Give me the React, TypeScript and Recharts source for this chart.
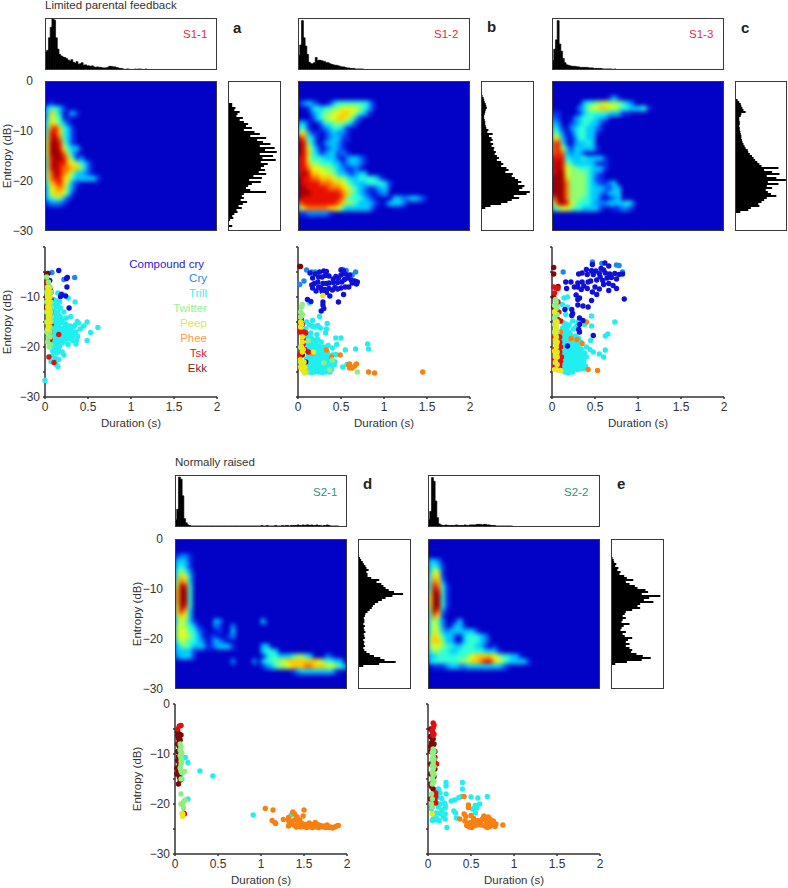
import { Bar, BarChart, Scatter, ScatterChart, XAxis, YAxis } from "recharts";

type Pt = [number, number];

const FONT = "'Liberation Sans', Arial, sans-serif";
const INK = "#333";
const PLOT_W = 172;
const PLOT_H = 150;
const HIST_H = 52;
const SIDE_W = 53;

const DURATION_TICKS = [0, 0.5, 1, 1.5, 2];
const ENTROPY_TICKS = [0, -5, -10, -15, -20, -25, -30];
const HEAT_TICKS = [0, -10, -20, -30];

const CALL_NAMES = ["Compound cry", "Cry", "Trill", "Twitter", "Peep", "Phee", "Tsk", "Ekk"];
const CALL_COLORS = ["#1010d8", "#1e88f0", "#22eef0", "#90ee80", "#e8e81a", "#f88010", "#e01010", "#7d0a0a"];
const LEGEND_COLORS = ["#2a20d0", "#2a86e8", "#48ecec", "#98f098", "#e4e450", "#f8a050", "#e02030", "#8b1a20"];
const LEGEND_Y = [265, 279, 294, 309, 324, 339, 354, 369];

// heat levels 0-9 then a
const JET = ["#0202c6", "#0a30ee", "#0088ff", "#00ccff", "#30ffd8", "#90ff70", "#e0ff20", "#ffcc00", "#ff7000", "#e81000", "#a00000"];

// duration histograms, 0.02 s bins, % of box height
const TOP_A = [35, 38, 62, 82, 98, 96, 62, 40, 30, 27, 25, 24, 22, 19, 17, 20, 15, 13, 16, 11, 12, 14, 9, 10, 8, 8, 7, 8, 6, 5, 6, 5, 5, 4, 4, 4, 5, 7, 7, 6, 6, 5, 4, 3, 3, 2, 1, 2, 2, 1, 1, 1, 2, 1, 2, 2, 1, 1, 2, 1, 1];
const TOP_B = [28, 48, 95, 62, 46, 30, 15, 12, 12, 14, 24, 18, 19, 18, 17, 16, 14, 14, 12, 11, 10, 9, 9, 8, 7, 6, 6, 5, 4, 4, 3, 3, 3, 2, 2, 2, 2, 2, 1, 1, 1, 1, 1, 1, 1, 1, 1, 1, 1, 1, 1, 1, 1, 1, 1, 1, 1, 1, 1, 1, 1, 1, 1, 1, 1, 1, 1, 1, 1, 1, 1, 1, 1, 1];
const TOP_C = [18, 40, 58, 95, 50, 36, 22, 14, 10, 9, 8, 7, 7, 7, 6, 6, 5, 5, 5, 5, 5, 4, 4, 4, 3, 3, 3, 3, 3, 2, 2, 2, 2, 2, 2, 1, 2, 1, 1, 1, 1, 1, 1, 1, 1, 1, 1, 1, 1, 1, 1, 1, 1, 1, 1, 1, 1, 1];
const TOP_D = [14, 34, 96, 92, 60, 16, 8, 4, 3, 2, 2, 2, 2, 2, 2, 2, 2, 2, 2, 2, 2, 2, 2, 2, 2, 2, 2, 2, 2, 2, 2, 2, 2, 2, 2, 2, 2, 2, 2, 2, 2, 2, 2, 2, 2, 2, 2, 2, 2, 2, 3, 2, 2, 3, 2, 2, 2, 2, 3, 2, 2, 2, 3, 2, 3, 3, 2, 3, 3, 3, 3, 4, 3, 3, 4, 3, 4, 4, 3, 4, 3, 3, 4, 3, 3, 2, 3, 3, 4, 3, 2, 2, 2, 2, 2];
const TOP_E = [14, 30, 95, 88, 50, 18, 6, 4, 3, 3, 4, 3, 3, 3, 3, 3, 4, 3, 3, 3, 3, 4, 3, 3, 4, 4, 4, 4, 5, 5, 5, 4, 5, 5, 4, 4, 3, 3, 3, 2, 2, 2, 2, 2, 2, 2, 2, 2, 2, 1, 1, 1];

// entropy histograms, 0.4 dB bins from 0 dB down, % of box width
const SIDE_A = [0, 0, 0, 0, 0, 0, 0, 0, 0, 0, 0, 8, 8, 14, 12, 22, 18, 16, 28, 22, 30, 38, 34, 45, 30, 50, 60, 42, 72, 55, 66, 80, 60, 88, 70, 92, 60, 85, 65, 90, 62, 75, 68, 62, 70, 58, 72, 48, 64, 40, 62, 45, 38, 34, 42, 72, 30, 26, 30, 24, 36, 28, 20, 26, 16, 18, 12, 8, 10, 4, 0, 2, 8];
const SIDE_B = [0, 0, 0, 0, 0, 0, 2, 3, 5, 6, 7, 9, 10, 11, 9, 8, 7, 6, 6, 7, 8, 8, 9, 10, 14, 12, 22, 15, 20, 22, 18, 23, 20, 25, 24, 28, 26, 30, 34, 30, 38, 42, 38, 48, 52, 46, 60, 58, 64, 70, 76, 70, 82, 78, 72, 92, 86, 62, 72, 58, 50, 38, 18, 8];
const SIDE_C = [0, 0, 0, 0, 0, 0, 0, 0, 0, 5, 8, 11, 12, 14, 16, 20, 12, 11, 8, 8, 9, 9, 8, 9, 9, 10, 11, 12, 12, 13, 14, 16, 18, 20, 24, 25, 28, 32, 35, 38, 42, 46, 50, 82, 55, 70, 84, 60, 78, 96, 62, 82, 60, 70, 58, 62, 68, 78, 60, 55, 50, 44, 46, 30, 25, 10];
const SIDE_D = [0, 0, 0, 0, 0, 0, 0, 0, 2, 4, 6, 9, 11, 14, 16, 20, 16, 18, 18, 25, 40, 35, 44, 48, 52, 58, 68, 85, 65, 52, 45, 38, 32, 28, 26, 22, 18, 14, 13, 11, 12, 12, 10, 13, 11, 12, 14, 11, 12, 13, 10, 12, 11, 13, 10, 12, 16, 22, 30, 42, 50, 71, 40, 10];
const SIDE_E = [0, 0, 0, 0, 0, 0, 0, 0, 0, 3, 5, 6, 10, 8, 14, 12, 18, 16, 25, 30, 42, 28, 35, 45, 50, 65, 70, 58, 93, 72, 62, 80, 55, 50, 55, 40, 28, 26, 22, 28, 22, 20, 35, 24, 20, 18, 28, 22, 26, 40, 32, 28, 35, 28, 35, 40, 38, 48, 60, 75, 58, 30, 8];

// density, one string per dB from 0 down, one char per 0.05 s
const HEAT_A = ["", "", "", "", "01", "34431", "37530131", "365401", "476431", "4897431", "5997431", "59a8431", "6aa9531", "6aa96433", "6aaa8531", "59aa97412", "59a99765431", "59a98877531", "58a98753321", "5899764333331", "47897521", "3678742", "3677641", "345531", "12221"];
const HEAT_B = ["", "", "", "", "123210013444444431", "001343445566665431", "000234556677654310", "00013456677653100", "33100244555431", "4410012344310", "6731101232210", "9843001233110", "a953102332100", "a96420123210", "a97431233121", "9964443331023321", "9975544433123321", "99866655432112", "9a97766553321233", "a99887776554334444310", "a999988877654333444431", "aa999998887654321123300", "aaa99999998754321012200", "a99999999985444321000033223321", "8999999998755433321013332", "5788888776433333310", "11222221"];
const HEAT_C = ["", "", "", "00000000000001310", "0000000344556555432", "00000023566776654433341", "1100001344444333110", "2100023444332", "3200123443310", "4310234433210", "54201344331", "6731024433", "8941023343", "89631333331", "8983233100", "99943334333310", "9a95433333101", "9a96554443331", "9aa6555543210", "aaa7555543110", "aaa8555543211230", "aaa8555543332133", "aaa8555543321333", "8aa8555443310123", "69a9654443222333343", "4566544333310011221"];
const HEAT_D = ["", "", "", "1221", "3331", "3431", "4542", "4763", "5873", "6a94", "7aa4", "7aa4", "7aa4", "6a94", "6973", "5763", "465310000320000000003", "565431000210020", "56644210001003", "56654310110012", "465443201321", "3454333112333100000033", "333310000000000000003443", "2333100000000000000003443334554300021", "000000000000020000203445567777777654433", "0000000000000000000012345567778877766543", "00000000000000000000000000012333333331"];
const HEAT_E = ["", "", "", "", "3320", "3431", "36510", "47610", "48720", "49841", "5a941", "6aa41", "6aa41", "6aa41", "5a820", "486100", "46420013", "465201331", "465323333331", "57643310344432", "57753310344432", "5665443344433101", "45544334444443331", "3344444445677776544331", "344444455677899765433331", "0111233223333333321"];

// panel a dots
const A_COMPOUND: Pt[] = [[0.035, -5.3], [0.16, -4.7], [0.055, -6.7], [0.26, -6.1], [0.25, -6.3], [0.255, -8], [0.19, -9.5], [0.18, -9.9], [0.24, -9.8], [0.28, -12.2]];
const A_CRY: Pt[] = [[0.08, -5.1], [0.22, -6.5], [0.345, -6.1]];
const A_TRILL: Pt[] = [[0, -26.7], [0.615, -16.1], [0.49, -15], [0.53, -17.1], [0.49, -18.7], [0.45, -15.8], [0.39, -15.2], [0.375, -14.9], [0.35, -15.6], [0.35, -11], [0.3, -13.9], [0.27, -10.2], [0.15, -9.2], [0.2, -9.4], [0.1, -10.5], [0.14, -10.8], [0.17, -11], [0.09, -11.6], [0.13, -12], [0.18, -12.2], [0.1, -12.8], [0.15, -13], [0.22, -13], [0.09, -13.8], [0.13, -14.1], [0.18, -14], [0.25, -14.2], [0.1, -15], [0.14, -15.2], [0.19, -15.1], [0.24, -15.4], [0.29, -15.8], [0.33, -16], [0.09, -16], [0.13, -16.2], [0.17, -16.5], [0.21, -16.3], [0.26, -16.6], [0.31, -16.9], [0.36, -17], [0.41, -16.4], [0.1, -17], [0.14, -17.3], [0.19, -17.2], [0.24, -17.5], [0.28, -17.8], [0.33, -17.7], [0.38, -17.9], [0.09, -18], [0.13, -18.2], [0.18, -18.3], [0.22, -18.6], [0.27, -18.4], [0.32, -18.7], [0.37, -18.6], [0.1, -19], [0.15, -19.2], [0.2, -19.1], [0.27, -19.5], [0.36, -19.4], [0.11, -20], [0.16, -20.2], [0.09, -20.8], [0.13, -21.1], [0.2, -21], [0.22, -21.6], [0.08, -21.8], [0.12, -22.2], [0.16, -22.5], [0.1, -23], [0.13, -23.5], [0.15, -23.9], [0.07, -22.9], [0.28, -16.1], [0.3, -17.2], [0.12, -11.2], [0.15, -11.7], [0.12, -13.4], [0.16, -13.7], [0.11, -14.6], [0.16, -14.6], [0.21, -14.5], [0.12, -15.7], [0.16, -15.8], [0.23, -16], [0.12, -16.8], [0.16, -17], [0.22, -17], [0.26, -17.2], [0.11, -17.7], [0.16, -17.8], [0.2, -17.8], [0.25, -18], [0.3, -18.2], [0.12, -18.7], [0.16, -18.7], [0.23, -19], [0.13, -19.7], [0.17, -19.7], [0.11, -20.5], [0.15, -21]];
const A_TWITTER: Pt[] = [[0.02, -6], [0.04, -7], [0.06, -8], [0.02, -9], [0.06, -10], [0.02, -11], [0.07, -12], [0.02, -13], [0.07, -14], [0.02, -15], [0.06, -16], [0.02, -17], [0.04, -18], [0.03, -19], [0.06, -19.5], [0.05, -20], [0.07, -9], [0.07, -11], [0.07, -13], [0.07, -15], [0.06, -17], [0.06, -18]];
const A_PEEP: Pt[] = [[0.03, -8], [0.04, -9], [0.03, -10], [0.04, -11], [0.03, -12], [0.05, -12.5], [0.03, -13], [0.04, -14], [0.03, -15], [0.05, -15], [0.04, -16], [0.03, -9.5], [0.05, -10], [0.05, -11], [0.05, -13.5], [0.04, -8.5], [0.04, -10.5], [0.04, -12], [0.04, -13], [0.04, -15], [0.03, -16.5]];
const A_PHEE: Pt[] = [];
const A_TSK: Pt[] = [[0.055, -18.7], [0.06, -18.3], [0.16, -17.5], [0.045, -22], [0.105, -23.1], [0.02, -7], [0.07, -9]];
const A_EKK: Pt[] = [[0.02, -5.4], [0.03, -7.5], [0.07, -10.5], [0.07, -13], [0.07, -15.5], [0.02, -12], [0.06, -17], [0.06, -8.5]];

// panel b dots
const B_COMPOUND: Pt[] = [[0.14, -5.2], [0.17, -6.2], [0.2, -5.4], [0.25, -5], [0.3, -4.8], [0.33, -4.9], [0.24, -6], [0.28, -6], [0.32, -5.7], [0.36, -5.8], [0.5, -4.6], [0.53, -4.8], [0.55, -5.4], [0.5, -5.6], [0.44, -5.9], [0.47, -6.2], [0.41, -6.4], [0.6, -5.6], [0.58, -6.2], [0.62, -6.6], [0.54, -6.5], [0.66, -6.8], [0.69, -7], [0.68, -7.4], [0.63, -7.2], [0.51, -7], [0.46, -7.1], [0.41, -7.1], [0.36, -7.2], [0.33, -7.3], [0.29, -7.3], [0.23, -7], [0.19, -7.3], [0.16, -7.6], [0.17, -8.2], [0.24, -8], [0.27, -8.3], [0.31, -8.5], [0.36, -8.3], [0.43, -8.1], [0.4, -8.6], [0.46, -8.4], [0.5, -8.2], [0.55, -8], [0.59, -8], [0.21, -8.8], [0.28, -8.9], [0.33, -9.1], [0.37, -9.8], [0.53, -9.5], [0.11, -10.5], [0.15, -10.9], [0.29, -11], [0.47, -11], [0.3, -12.3], [0.27, -12.8], [0.29, -11.6]];
const B_CRY: Pt[] = [[0.1, -4.6], [0.16, -5], [0.2, -5], [0.52, -4.5], [0.56, -4.7], [0.67, -5], [0.63, -5.6], [0.07, -6.8], [0.02, -7.5]];
const B_TRILL: Pt[] = [[0.13, -11.2], [0.17, -14.7], [0.25, -13.9], [0.34, -15.3], [0.33, -16.4], [0.32, -17.2], [0.1, -15], [0.13, -15.6], [0.17, -15.9], [0.2, -16], [0.23, -15.7], [0.26, -16.2], [0.09, -16.4], [0.5, -18.2], [0.44, -18.2], [0.45, -19.5], [0.35, -19.7], [0.81, -19.4], [0.82, -20.4], [0.67, -20.4], [0.55, -20.6], [0.4, -20.2], [0.44, -21.5], [0.43, -23], [0.52, -24], [0.57, -23.5], [0.11, -18], [0.15, -18.2], [0.19, -18.6], [0.23, -18.5], [0.27, -19], [0.12, -19.3], [0.16, -19.5], [0.2, -19.7], [0.25, -19.9], [0.3, -20], [0.11, -20.4], [0.14, -20.6], [0.18, -20.9], [0.22, -20.7], [0.26, -21], [0.3, -21.2], [0.34, -21.1], [0.12, -21.5], [0.16, -21.8], [0.2, -21.9], [0.24, -21.6], [0.28, -22], [0.32, -22.1], [0.36, -22], [0.4, -21.6], [0.1, -22.4], [0.13, -22.6], [0.17, -22.7], [0.21, -22.5], [0.25, -22.9], [0.29, -22.8], [0.33, -22.9], [0.37, -23], [0.41, -22.9], [0.1, -23.3], [0.14, -23.5], [0.18, -23.4], [0.22, -23.7], [0.26, -23.5], [0.3, -23.7], [0.34, -23.6], [0.38, -23.8], [0.42, -23.6], [0.11, -24.2], [0.15, -24.4], [0.19, -24.2], [0.23, -24.5], [0.27, -24.3], [0.31, -24.4], [0.35, -24.3], [0.39, -24.5], [0.12, -25], [0.16, -25.1], [0.2, -25], [0.24, -25], [0.28, -25.1], [0.32, -25], [0.08, -25], [0.37, -25], [0.15, -17.2], [0.22, -17.5], [0.13, -18.7], [0.17, -19], [0.21, -19.2], [0.13, -19.9], [0.18, -20.2], [0.22, -20.2], [0.27, -20.4], [0.14, -21.1], [0.18, -21.3], [0.22, -21.3], [0.27, -21.5], [0.31, -21.6], [0.12, -22], [0.15, -22.2], [0.19, -22.3], [0.23, -22.2], [0.27, -22.4], [0.31, -22.4], [0.35, -22.5], [0.12, -23], [0.16, -23.1], [0.2, -23.1], [0.24, -23.2], [0.28, -23.2], [0.32, -23.3], [0.36, -23.4], [0.12, -23.8], [0.16, -23.9], [0.2, -23.8], [0.24, -24], [0.28, -23.9], [0.32, -24], [0.36, -23.9], [0.13, -24.7], [0.17, -24.7], [0.21, -24.6], [0.25, -24.7], [0.29, -24.7], [0.33, -24.7]];
const B_PHEE: Pt[] = [[0.33, -20.6], [0.39, -22], [0.49, -21.6], [0.59, -23.6], [0.6, -24.2], [0.63, -24.2], [0.6, -23.4], [0.66, -23.8], [0.68, -23.4], [0.82, -25], [0.89, -25.2], [1.45, -25], [0.16, -21.2]];
const B_TWITTER: Pt[] = [[0.05, -11.5], [0.04, -12], [0.03, -13], [0.05, -13.5], [0.03, -14], [0.12, -18.8], [0.1, -25], [0.37, -24.6], [0.69, -25], [0.4, -22.6], [0.3, -23.2], [0.03, -20], [0.03, -23]];
const B_PEEP: Pt[] = [[0.03, -15], [0.04, -15.5], [0.03, -16], [0.05, -18], [0.05, -19], [0.04, -20], [0.06, -20.5], [0.05, -21], [0.03, -22.5], [0.04, -23], [0.05, -23.5], [0.03, -24], [0.06, -24], [0.05, -24.5], [0.07, -25], [0.08, -25.2], [0.07, -23], [0.08, -24], [0.18, -21], [0.29, -9.7]];
const B_TSK: Pt[] = [[0.02, -14], [0.04, -14.5], [0.05, -15.5], [0.02, -17], [0.04, -17], [0.07, -17], [0.09, -17.2], [0.06, -18.5], [0.06, -19.5], [0.06, -20.8], [0.02, -21.5], [0.04, -21], [0.08, -20.5], [0.12, -21], [0.02, -22], [0.02, -16]];
const B_EKK: Pt[] = [[0.02, -3.9], [0.03, -3.9], [0.09, -23], [0.02, -15], [0.05, -21.6]];

// panel c dots
const C_COMPOUND: Pt[] = [[0.615, -3.2], [0.47, -3.5], [0.66, -3.8], [0.57, -4.3], [0.6, -4.6], [0.51, -4.8], [0.4, -4.5], [0.46, -4.8], [0.35, -5.2], [0.31, -5.4], [0.41, -5.5], [0.48, -5.5], [0.55, -5.3], [0.62, -5.2], [0.67, -5.4], [0.73, -5.3], [0.78, -5.5], [0.82, -5.4], [0.56, -6], [0.64, -6.2], [0.69, -6.1], [0.75, -6.4], [0.52, -6.6], [0.59, -6.7], [0.45, -6.8], [0.42, -7], [0.35, -7], [0.3, -7.2], [0.22, -7], [0.16, -7], [0.6, -7.5], [0.66, -7.3], [0.71, -7.7], [0.37, -7.8], [0.3, -8], [0.26, -8], [0.5, -8], [0.55, -8.4], [0.75, -8.3], [0.66, -8.7], [0.47, -9], [0.41, -8.3], [0.34, -8.5], [0.28, -9.6], [0.17, -8.3], [0.52, -9.5], [0.84, -10.4], [0.32, -10.2], [0.3, -10.5], [0.46, -10.7], [0.36, -11.8], [0.42, -12], [0.3, -11.6], [0.23, -12.5], [0.15, -12.5], [0.24, -13.3], [0.23, -13.7], [0.32, -14.2], [0.36, -14.7], [0.32, -15.5], [0.31, -16.5], [0.32, -17], [0.48, -17.7], [0.18, -19.8]];
const C_CRY: Pt[] = [[0.47, -3], [0.58, -3.3], [0.75, -3.6], [0.78, -3.7], [0.13, -5], [0.46, -4.7], [0.82, -5]];
const C_TRILL: Pt[] = [[0.73, -15], [0.65, -17.4], [0.62, -17.8], [0.46, -13.8], [0.14, -10.2], [0.18, -10], [0.12, -11.5], [0.18, -12], [0.16, -13.5], [0.24, -14.8], [0.3, -15], [0.38, -15.5], [0.46, -15.8], [0.45, -18.7], [0.44, -20.5], [0.48, -21], [0.55, -21.4], [0.6, -22], [0.62, -20.6], [0.4, -20], [0.33, -19], [0.12, -15], [0.16, -15.4], [0.2, -15.6], [0.12, -16.3], [0.16, -16.8], [0.2, -17], [0.25, -16.4], [0.28, -15.9], [0.12, -17.8], [0.16, -18.1], [0.2, -18.3], [0.24, -18], [0.28, -17.8], [0.11, -19], [0.15, -19.3], [0.19, -19.5], [0.23, -19.2], [0.27, -19.4], [0.31, -18.3], [0.1, -20], [0.14, -20.3], [0.18, -20.6], [0.22, -20.2], [0.26, -20.5], [0.3, -20.1], [0.34, -20.4], [0.38, -21.2], [0.12, -21.2], [0.16, -21.4], [0.2, -21.6], [0.24, -21.3], [0.28, -21.7], [0.32, -21.4], [0.36, -21.8], [0.4, -22], [0.13, -22.2], [0.17, -22.5], [0.21, -22.3], [0.25, -22.6], [0.29, -22.4], [0.33, -22.7], [0.37, -22.9], [0.11, -23.2], [0.15, -23.4], [0.19, -23.6], [0.23, -23.3], [0.27, -23.5], [0.31, -23.7], [0.35, -23.5], [0.39, -23.8], [0.13, -24.3], [0.17, -24.5], [0.21, -24.7], [0.25, -24.4], [0.29, -24.5], [0.33, -24.4], [0.37, -24.3], [0.19, -25.2], [0.24, -25], [0.15, -25], [0.14, -16], [0.18, -16], [0.14, -17.4], [0.18, -17.4], [0.22, -17.6], [0.13, -18.5], [0.17, -18.8], [0.21, -18.8], [0.26, -18.8], [0.13, -19.7], [0.17, -20], [0.21, -20], [0.25, -20], [0.29, -19.6], [0.12, -20.7], [0.16, -20.9], [0.2, -21], [0.24, -20.9], [0.28, -21], [0.32, -20.9], [0.14, -21.8], [0.18, -22], [0.22, -21.9], [0.26, -22], [0.3, -22], [0.34, -22.2], [0.15, -22.8], [0.19, -23], [0.23, -22.8], [0.27, -23], [0.31, -23], [0.35, -23], [0.17, -23.9], [0.21, -24], [0.25, -23.9], [0.29, -24], [0.33, -23.9]];
const C_PHEE: Pt[] = [[0.4, -15], [0.22, -18.3], [0.29, -18.5], [0.35, -19.3], [0.42, -24.5], [0.53, -24.7], [0.1, -17]];
const C_TWITTER: Pt[] = [[0.04, -10.5], [0.05, -11], [0.03, -11.7], [0.05, -12.3], [0.03, -13], [0.05, -13.5], [0.03, -14.2], [0.05, -14.8], [0.03, -15.5], [0.05, -16], [0.03, -17], [0.04, -17.5], [0.04, -21], [0.05, -22], [0.06, -12], [0.06, -13.5], [0.06, -15], [0.06, -17]];
const C_PEEP: Pt[] = [[0.03, -13], [0.05, -16], [0.04, -17], [0.05, -18], [0.04, -19], [0.05, -20], [0.03, -20.8], [0.05, -19.5], [0.04, -21.5], [0.06, -22], [0.04, -23], [0.05, -24.5], [0.1, -24.7], [0.05, -15], [0.04, -18.5], [0.06, -19], [0.04, -22], [0.06, -23.5], [0.03, -24.5], [0.06, -21]];
const C_TSK: Pt[] = [[0.02, -8], [0.05, -8.2], [0.07, -8.3], [0.03, -9.2], [0.07, -11], [0.08, -13], [0.1, -14.8], [0.07, -14.5], [0.03, -18], [0.07, -18.5], [0.09, -19], [0.03, -20.5], [0.07, -20.6], [0.09, -21], [0.11, -22], [0.03, -22.5], [0.07, -23], [0.09, -23.5], [0.03, -24], [0.07, -24.5], [0.04, -19], [0.1, -20], [0.1, -22.8], [0.09, -18], [0.09, -24.2]];
const C_EKK: Pt[] = [[0.02, -4.1], [0.02, -5.4], [0.02, -10], [0.08, -18], [0.08, -19.5], [0.02, -12], [0.07, -7.9]];

// panel d dots
const D_COMPOUND: Pt[] = [];
const D_CRY: Pt[] = [];
const D_TRILL: Pt[] = [[0.12, -10.7], [0.15, -11.7], [0.29, -13.4], [0.44, -14.4], [0.08, -15], [0.15, -19], [0.91, -22.2], [1.35, -22.2], [0.07, -14]];
const D_PHEE: Pt[] = [[1.05, -20.9], [1.14, -21.2], [1.13, -23.3], [1.16, -23.7], [1.17, -23.9], [1.26, -23.1], [1.5, -21.2], [1.37, -21.6], [1.39, -22], [1.32, -22.7], [1.49, -22.4], [1.32, -23.3], [1.33, -24], [1.32, -24.4], [1.36, -23.4], [1.38, -24.2], [1.4, -23.1], [1.41, -24.6], [1.43, -23.7], [1.44, -24.3], [1.46, -24.6], [1.48, -23.9], [1.5, -24.5], [1.52, -24.1], [1.53, -24.7], [1.55, -24.2], [1.56, -23.8], [1.57, -24.6], [1.59, -24.1], [1.6, -24.7], [1.62, -24.3], [1.63, -23.7], [1.64, -24.6], [1.66, -24.1], [1.67, -24.7], [1.69, -24.3], [1.71, -24.6], [1.73, -24.4], [1.75, -24.7], [1.77, -24.2], [1.79, -24.7], [1.81, -24.6], [1.83, -24.8], [1.86, -24.6], [1.88, -24.4], [1.9, -24.3], [1.45, -23.2], [1.42, -22.6]];
const D_TWITTER: Pt[] = [[0.06, -8], [0.07, -8.6], [0.06, -9.2], [0.08, -9.8], [0.06, -10.3], [0.07, -10.9], [0.08, -11.5], [0.07, -12.1], [0.06, -12.8], [0.07, -13.4], [0.09, -13.7], [0.11, -13.5], [0.07, -15], [0.07, -18], [0.07, -20], [0.09, -20], [0.1, -19.5], [0.1, -20.8], [0.12, -19.2], [0.07, -9.6], [0.07, -11.5], [0.08, -13.7]];
const D_PEEP: Pt[] = [[0.09, -22.5], [0.09, -22], [0.08, -21.9]];
const D_TSK: Pt[] = [[0.05, -4.4], [0.07, -4.3], [0.03, -5], [0.1, -21.8], [0.11, -22]];
const D_EKK: Pt[] = [[0.03, -5.5], [0.05, -6], [0.07, -6.2], [0.04, -6.9], [0.06, -7.2], [0.03, -8], [0.05, -8.5], [0.03, -9.5], [0.04, -10.5], [0.03, -11.3], [0.05, -12], [0.02, -12.8], [0.04, -13.5], [0.05, -14.6], [0.02, -14], [0.04, -16], [0.06, -15.2], [0.05, -6.6], [0.05, -7.6], [0.03, -6.3]];

// panel e dots
const E_COMPOUND: Pt[] = [];
const E_CRY: Pt[] = [];
const E_TRILL: Pt[] = [[0.21, -15.7], [0.21, -16.4], [0.4, -15.7], [0.4, -17], [0.36, -18.7], [0.39, -18.5], [0.69, -18.5], [0.5, -18.6], [0.58, -18.8], [0.6, -20], [0.55, -20.3], [0.57, -20.8], [0.52, -21], [0.55, -21.8], [0.22, -24.7], [0.12, -17], [0.14, -17.8], [0.21, -18], [0.11, -18.7], [0.16, -18.9], [0.1, -19.8], [0.14, -20], [0.19, -19.8], [0.2, -20.2], [0.27, -19.4], [0.31, -19.2], [0.12, -20.6], [0.2, -20.8], [0.16, -21.2], [0.3, -21.4], [0.32, -21.8], [0.1, -21.8], [0.14, -21.9], [0.2, -22], [0.06, -23], [0.1, -22.9], [0.2, -23], [0.18, -22.6], [0.33, -22.8], [0.05, -23.3], [0.09, -23.2], [0.13, -23.3], [0.07, -22], [0.04, -21]];
const E_PHEE: Pt[] = [[0.42, -18.5], [0.47, -20.2], [0.47, -20.7], [0.42, -22], [0.37, -23], [0.44, -22.5], [0.5, -22.3], [0.53, -22.9], [0.43, -23.4], [0.46, -23.8], [0.5, -23.7], [0.54, -23.4], [0.58, -23.3], [0.61, -23.7], [0.65, -22.4], [0.66, -23], [0.68, -23.5], [0.7, -22.6], [0.72, -23], [0.74, -23.7], [0.76, -23.4], [0.79, -24], [0.87, -24.2], [0.45, -24.3], [0.48, -24.6], [0.51, -24.7], [0.55, -24.3], [0.58, -24.1], [0.62, -24.2], [0.66, -24.4], [0.69, -24.7], [0.72, -24.5], [0.75, -24.2], [0.78, -24.5], [0.53, -24], [0.63, -23], [0.7, -23.7]];
const E_TWITTER: Pt[] = [[0.06, -9], [0.05, -9.7], [0.06, -10.4], [0.05, -11], [0.06, -11.7], [0.05, -12.4], [0.06, -13], [0.05, -13.7], [0.06, -14.3], [0.05, -15], [0.07, -15.5], [0.05, -16], [0.04, -18], [0.05, -19], [0.04, -20], [0.05, -20.6], [0.07, -9.5], [0.07, -11], [0.07, -12.5], [0.07, -14]];
const E_PEEP: Pt[] = [[0.05, -22]];
const E_TSK: Pt[] = [[0.06, -3.8], [0.07, -4.2], [0.06, -4.8], [0.05, -5.3], [0.07, -6], [0.06, -6.3], [0.08, -11.7], [0.09, -17.8], [0.09, -18.5], [0.08, -19.2], [0.09, -19.8], [0.1, -12]];
const E_EKK: Pt[] = [[0.03, -5], [0.05, -5.5], [0.03, -6.5], [0.06, -7], [0.04, -7.8], [0.07, -8], [0.03, -8.5], [0.08, -9.5], [0.08, -10.7], [0.03, -12], [0.08, -13], [0.03, -14], [0.07, -14.5], [0.04, -16.5], [0.06, -17], [0.03, -19], [0.05, -20.5], [0.05, -7], [0.06, -8.2], [0.03, -9.5], [0.03, -16]];

function Note({ x, y, size = 11.5, color = INK, bold = false, right = false, children }: any) {
  return (
    <div
      style={{
        position: "absolute",
        fontFamily: FONT,
        whiteSpace: "nowrap",
        ...(right ? { right: 788 - x } : { left: x }),
        top: y,
        fontSize: size,
        lineHeight: 1,
        transform: "translateY(-50%)",
        color,
        fontWeight: bold ? 700 : 400,
      }}
    >
      {children}
    </div>
  );
}

function Frame({ x, y, w, h }: { x: number; y: number; w: number; h: number }) {
  return <div style={{ position: "absolute", left: x, top: y, width: w, height: h, boxSizing: "border-box", border: "1.5px solid #3a3a3a" }} />;
}

function TopHist({ x, y, values }: { x: number; y: number; values: number[] }) {
  const data = Array.from({ length: 100 }, (_, i) => ({ bin: i, v: values[i] ?? 0 }));
  return (
    <div style={{ position: "absolute", left: x, top: y }}>
      <BarChart width={PLOT_W} height={HIST_H} data={data} margin={{ top: 0, right: 0, bottom: 0, left: 0 }} barCategoryGap={0}>
        <XAxis dataKey="bin" hide />
        <YAxis domain={[0, 100]} hide />
        <Bar dataKey="v" fill="#000" stroke="#000" strokeWidth={0.6} isAnimationActive={false} />
      </BarChart>
    </div>
  );
}

function SideHist({ x, y, values }: { x: number; y: number; values: number[] }) {
  const data = Array.from({ length: 75 }, (_, i) => ({ bin: i, v: values[i] ?? 0 }));
  return (
    <div style={{ position: "absolute", left: x, top: y }}>
      <BarChart width={SIDE_W} height={PLOT_H} data={data} layout="vertical" margin={{ top: 0, right: 0, bottom: 0, left: 0 }} barCategoryGap={0}>
        <XAxis type="number" domain={[0, 100]} hide />
        <YAxis type="category" dataKey="bin" hide />
        <Bar dataKey="v" fill="#000" isAnimationActive={false} />
      </BarChart>
    </div>
  );
}

function heatCells(rows: string[]) {
  const cells: { x: number; y: number; level: number }[] = [];
  rows.forEach((row, r) => {
    row.split("").forEach((ch, c) => {
      const level = ch === "a" ? 10 : Number(ch);
      if (level > 0) cells.push({ x: (c + 0.5) * 0.05, y: -(r + 0.5), level });
    });
  });
  return cells;
}

function HeatCell(props: any) {
  const { cx, cy, payload } = props;
  return <rect x={cx - 2.4} y={cy - 2.8} width={4.8} height={5.6} fill={JET[payload.level]} />;
}

function Heat({ x, y, rows, labelled }: { x: number; y: number; rows: string[]; labelled?: boolean }) {
  const cells = heatCells(rows);
  return (
    <>
      <div style={{ position: "absolute", left: x, top: y, width: PLOT_W, height: PLOT_H, overflow: "hidden", background: JET[0] }}>
        <div style={{ filter: "blur(2px)" }}>
          <ScatterChart width={PLOT_W} height={PLOT_H} margin={{ top: 0, right: 0, bottom: 0, left: 0 }}>
            <XAxis type="number" dataKey="x" domain={[0, 2]} hide />
            <YAxis type="number" dataKey="y" domain={[-30, 0]} hide />
            <Scatter data={cells} shape={HeatCell} isAnimationActive={false} />
          </ScatterChart>
        </div>
      </div>
      <Frame x={x} y={y} w={PLOT_W} h={PLOT_H} />
      {labelled && (
        <div style={{ position: "absolute", left: x - 46, top: y - 8 }}>
          <ScatterChart width={66} height={PLOT_H + 16} margin={{ top: 8, right: 0, bottom: 8, left: 0 }}>
            <XAxis type="number" dataKey="x" domain={[0, 2]} hide />
            <YAxis
              type="number"
              dataKey="y"
              width={46}
              domain={[-30, 0]}
              ticks={HEAT_TICKS}
              interval={0}
              axisLine={false}
              tickLine={false}
              tickMargin={6}
              tick={{ fontSize: 12, fill: INK, fontFamily: FONT }}
              tickFormatter={(v: number) => String(v).replace("-", "\u2212")}
              label={{ value: "Entropy (dB)", angle: -90, position: "center", dx: -15, fontSize: 11.5, fill: INK, fontFamily: FONT }}
            />
            {/* same cells, drawn empty: the axis only needs the series to lay out its ticks */}
            <Scatter data={cells} shape={() => <g />} isAnimationActive={false} />
          </ScatterChart>
        </div>
      )}
    </>
  );
}

function toRows(points: Pt[]) {
  return points.map(([x, y]) => ({ x, y }));
}

function Dots({ x, y, groups, entropyLabels, zeroLabel }: { x: number; y: number; groups: Pt[][]; entropyLabels?: boolean; zeroLabel?: boolean }) {
  // drawn order: trill, phee, cry, compound, ekk, tsk, twitter, peep
  const order = [2, 5, 1, 0, 7, 6, 3, 4];
  const yLabel = (v: number) => {
    if (!entropyLabels) return "";
    if (v === 0) return zeroLabel ? "0" : "";
    return v % 10 === 0 ? String(v).replace("-", "\u2212") : "";
  };
  return (
    <div style={{ position: "absolute", left: x - 46, top: y - 8 }}>
      <ScatterChart width={PLOT_W + 46 + 10} height={PLOT_H + 8 + 38} margin={{ top: 8, right: 10, bottom: 0, left: 0 }}>
        <XAxis
          type="number"
          dataKey="x"
          domain={[0, 2]}
          ticks={DURATION_TICKS}
          interval={0}
          height={38}
          stroke={INK}
          strokeWidth={1.5}
          tickSize={2}
          tickMargin={3}
          tick={{ fontSize: 12, fill: INK, fontFamily: FONT }}
          label={{ value: "Duration (s)", position: "insideBottom", offset: 8, fontSize: 11.5, fill: INK, fontFamily: FONT }}
        />
        <YAxis
          type="number"
          dataKey="y"
          width={46}
          domain={[-30, 0]}
          ticks={ENTROPY_TICKS}
          interval={0}
          stroke={INK}
          strokeWidth={1.5}
          tickSize={2}
          tickMargin={3}
          tick={{ fontSize: 12, fill: INK, fontFamily: FONT }}
          tickFormatter={yLabel}
          label={entropyLabels ? { value: "Entropy (dB)", angle: -90, position: "center", dx: -15, fontSize: 11.5, fill: INK, fontFamily: FONT } : undefined}
        />
        {order.map((k) => (
          <Scatter
            key={k}
            name={CALL_NAMES[k]}
            data={toRows(groups[k])}
            isAnimationActive={false}
            shape={(p: any) => <circle cx={p.cx} cy={p.cy} r={2.7} fill={CALL_COLORS[k]} />}
          />
        ))}
      </ScatterChart>
    </div>
  );
}

export default function App() {
  return (
    <div style={{ position: "absolute", left: 0, top: 0, width: 788, height: 888, background: "#fff", overflow: "hidden" }}>
      <Note x={45} y={6}>Limited parental feedback</Note>
      <Note x={175} y={463}>Normally raised</Note>

      {/* a */}
      <TopHist x={45} y={18} values={TOP_A} />
      <Frame x={45} y={18} w={PLOT_W} h={HIST_H} />
      <Note x={183} y={35} color="#e0303a">S1-1</Note>
      <Note x={233} y={27} size={15} bold color="#222">a</Note>
      <Heat x={45} y={81} rows={HEAT_A} labelled />
      <SideHist x={228} y={81} values={SIDE_A} />
      <Frame x={228} y={81} w={SIDE_W} h={PLOT_H} />
      <Dots x={45} y={247} groups={[A_COMPOUND, A_CRY, A_TRILL, A_TWITTER, A_PEEP, A_PHEE, A_TSK, A_EKK]} entropyLabels />
      {CALL_NAMES.map((name, i) => (
        <Note key={name} x={i === 0 ? 204 : 207} y={LEGEND_Y[i]} right color={LEGEND_COLORS[i]}>{name}</Note>
      ))}

      {/* b */}
      <TopHist x={298} y={18} values={TOP_B} />
      <Frame x={298} y={18} w={PLOT_W} h={HIST_H} />
      <Note x={434} y={35} color="#e0303a">S1-2</Note>
      <Note x={487} y={26} size={15} bold color="#222">b</Note>
      <Heat x={298} y={81} rows={HEAT_B} />
      <SideHist x={481} y={81} values={SIDE_B} />
      <Frame x={481} y={81} w={SIDE_W} h={PLOT_H} />
      <Dots x={298} y={247} groups={[B_COMPOUND, B_CRY, B_TRILL, B_TWITTER, B_PEEP, B_PHEE, B_TSK, B_EKK]} />

      {/* c */}
      <TopHist x={552} y={18} values={TOP_C} />
      <Frame x={552} y={18} w={PLOT_W} h={HIST_H} />
      <Note x={689} y={35} color="#e0303a">S1-3</Note>
      <Note x={741} y={27} size={15} bold color="#222">c</Note>
      <Heat x={552} y={81} rows={HEAT_C} />
      <SideHist x={735} y={81} values={SIDE_C} />
      <Frame x={735} y={81} w={SIDE_W - 1} h={PLOT_H} />
      <Dots x={552} y={247} groups={[C_COMPOUND, C_CRY, C_TRILL, C_TWITTER, C_PEEP, C_PHEE, C_TSK, C_EKK]} />

      {/* d */}
      <TopHist x={175} y={475} values={TOP_D} />
      <Frame x={175} y={475} w={PLOT_W} h={HIST_H} />
      <Note x={313} y={493} color="#2f8f80">S2-1</Note>
      <Note x={363} y={483} size={15} bold color="#222">d</Note>
      <Heat x={175} y={539} rows={HEAT_D} labelled />
      <SideHist x={358} y={539} values={SIDE_D} />
      <Frame x={358} y={539} w={SIDE_W} h={PLOT_H} />
      <Dots x={175} y={704} groups={[D_COMPOUND, D_CRY, D_TRILL, D_TWITTER, D_PEEP, D_PHEE, D_TSK, D_EKK]} entropyLabels zeroLabel />

      {/* e */}
      <TopHist x={428} y={475} values={TOP_E} />
      <Frame x={428} y={475} w={PLOT_W} h={HIST_H} />
      <Note x={564} y={493} color="#2f8f80">S2-2</Note>
      <Note x={617} y={483} size={15} bold color="#222">e</Note>
      <Heat x={428} y={539} rows={HEAT_E} />
      <SideHist x={611} y={539} values={SIDE_E} />
      <Frame x={611} y={539} w={SIDE_W} h={PLOT_H} />
      <Dots x={428} y={704} groups={[E_COMPOUND, E_CRY, E_TRILL, E_TWITTER, E_PEEP, E_PHEE, E_TSK, E_EKK]} />
    </div>
  );
}
